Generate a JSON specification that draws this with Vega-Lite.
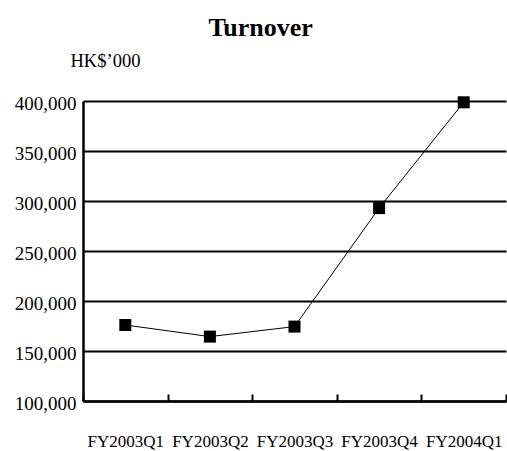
{
  "$schema": "https://vega.github.io/schema/vega-lite/v6.json",
  "width": 423,
  "height": 300,
  "autosize": {"type": "none"},
  "padding": {"left": 83, "top": 101, "right": 1, "bottom": 50},
  "background": "white",
  "title": {
    "text": "Turnover",
    "font": "Liberation Serif",
    "fontSize": 26,
    "fontWeight": "bold",
    "color": "black",
    "anchor": "middle",
    "frame": "bounds",
    "offset": 10
  },
  "config": {
    "view": {"stroke": null},
    "axis": {
      "labelFont": "Liberation Serif",
      "titleFont": "Liberation Serif",
      "labelColor": "black",
      "titleColor": "black",
      "domainColor": "black",
      "tickColor": "black",
      "gridColor": "black"
    }
  },
  "data": {
    "values": [
      {"quarter": "FY2003Q1", "turnover": 176000},
      {"quarter": "FY2003Q2", "turnover": 164400},
      {"quarter": "FY2003Q3", "turnover": 174400},
      {"quarter": "FY2003Q4", "turnover": 292900},
      {"quarter": "FY2004Q1", "turnover": 398700}
    ]
  },
  "encoding": {
    "x": {
      "field": "quarter",
      "type": "ordinal",
      "sort": null,
      "scale": {"type": "band", "paddingInner": 0, "paddingOuter": 0},
      "axis": {
        "title": null,
        "labelAngle": 0,
        "labelFontSize": 17,
        "labelPadding": 39,
        "ticks": true,
        "tickSize": -7,
        "tickWidth": 2,
        "tickBand": "extent",
        "domainWidth": 2.5,
        "grid": false
      }
    },
    "y": {
      "field": "turnover",
      "type": "quantitative",
      "scale": {"domain": [100000, 400000], "nice": false, "zero": false},
      "axis": {
        "title": "HK$’000",
        "titleAngle": 0,
        "titleFontSize": 18.5,
        "titleFontWeight": "normal",
        "titleAlign": "left",
        "titleBaseline": "alphabetic",
        "titleX": -13,
        "titleY": -35,
        "values": [100000, 150000, 200000, 250000, 300000, 350000, 400000],
        "format": ",.0f",
        "labelFontSize": 19,
        "labelPadding": 7,
        "labelOffset": 2,
        "ticks": false,
        "domainWidth": 2.5,
        "grid": true,
        "gridWidth": 2
      }
    }
  },
  "layer": [
    {"mark": {"type": "line", "color": "black", "strokeWidth": 1}},
    {"mark": {"type": "point", "shape": "square", "filled": true, "size": 144, "color": "black", "opacity": 1}}
  ]
}
